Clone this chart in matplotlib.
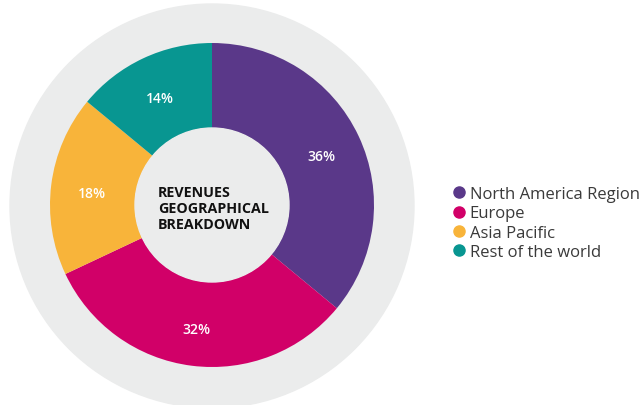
"""Donut chart: revenues geographical breakdown."""

import matplotlib.pyplot as plt
from matplotlib.lines import Line2D

regions = ["North America Region", "Europe", "Asia Pacific", "Rest of the world"]
shares = [36, 32, 18, 14]
colors = ["#5a3889", "#d10068", "#f8b43a", "#089691"]
center_title = "REVENUES\nGEOGRAPHICAL\nBREAKDOWN"

W, H = 639, 406
fig = plt.figure(figsize=(W / 100, H / 100), dpi=100)
ax = fig.add_axes([0, 0, 1, 1])

cx, cy = 212, H - 206
ring_r = 162
hole_r = 77

# grey backdrop disc
ax.add_patch(plt.Circle((cx, H - 207), 202, color="#ebecec", zorder=0))

wedges, _, autotexts = ax.pie(
    shares,
    colors=colors,
    center=(cx, cy),
    radius=ring_r,
    startangle=90,
    counterclock=False,
    autopct="%d%%",
    pctdistance=0.75,
    wedgeprops=dict(width=ring_r - hole_r, linewidth=0),
    textprops=dict(color="white", fontsize=10, family="Open Sans", weight="semibold"),
    frame=True,
)
for t in autotexts:
    x, y = t.get_position()
    t.set_position((x, y - 3))
ax.set_xlim(0, W)
ax.set_ylim(0, H)
ax.set_aspect("equal")
ax.axis("off")

ax.add_patch(plt.Circle((cx, cy), hole_r, color="#ebecec", zorder=3))
ax.text(158, H - 209, center_title, ha="left", va="center", fontsize=10.3,
        family="Open Sans", weight="bold", color="#111111", linespacing=1.15, zorder=4)

handles = [Line2D([], [], marker="o", linestyle="", markersize=8,
                  markerfacecolor=c, markeredgecolor=c) for c in colors]
ax.legend(handles, regions, loc="center left", bbox_to_anchor=(452 / W, 1 - 224 / H),
          frameon=False, handletextpad=0.25, handlelength=0.8, labelspacing=0.2,
          borderaxespad=0, borderpad=0,
          prop=dict(family="Open Sans", size=12), labelcolor="#3a3a3a")

fig.savefig("out.png", dpi=100)
